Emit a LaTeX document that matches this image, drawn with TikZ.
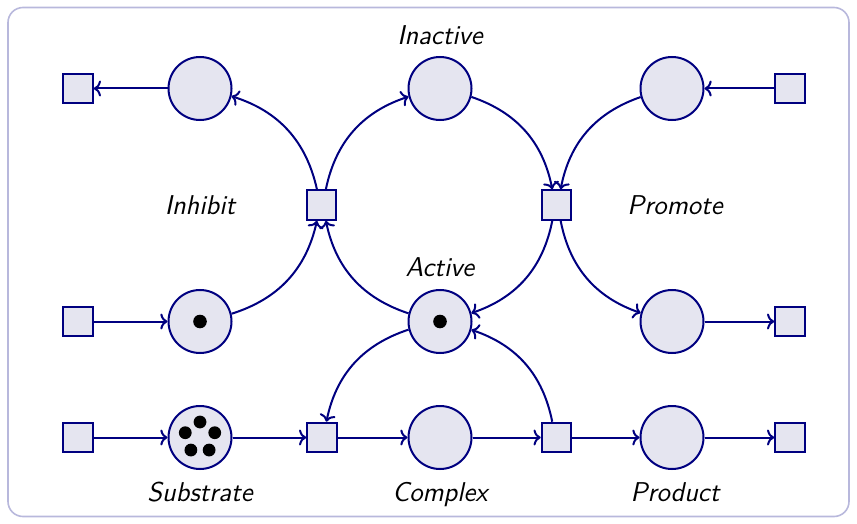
\documentclass[tikz,border=0pt]{standalone}
\usepackage{fontspec}
\usetikzlibrary{arrows.meta}
\definecolor{netline}{RGB}{0,0,128}
\definecolor{netfill}{RGB}{229,229,240}
\definecolor{framecol}{RGB}{184,184,220}
\begin{document}
\begin{tikzpicture}[x=0.5pt,y=-0.5pt,
  place/.style={circle,draw=netline,fill=netfill,line width=1pt,minimum size=31.5pt,inner sep=0pt},
  trans/.style={rectangle,draw=netline,fill=netfill,line width=1pt,minimum size=14.8pt,inner sep=0pt},
  lbl/.style={anchor=base,inner sep=0pt,font=\fontsize{13.6}{16}\selectfont\sffamily\itshape},
  arc/.style={draw=netline,line width=1pt,-{To[length=3.6pt,width=8pt]}},
  tok/.style={fill=black}]
\useasboundingbox (0,0) rectangle (857,524);
\draw[framecol,line width=0.8pt,rounded corners=7.5pt] (8,7.5) rectangle (849,516.5);

% top row
\node[trans] (sTL) at (78,88.5) {};
\node[place] (pTL) at (200,88.5) {};
\node[place] (pIn) at (440,88.5) {};
\node[place] (pTR) at (672,88.5) {};
\node[trans] (sTR) at (790,88.5) {};

% inhibit / promote transitions
\node[trans] (tI) at (321.5,205) {};
\node[trans] (tP) at (556.5,205) {};

% middle row
\node[trans] (sML) at (78,321.5) {};
\node[place] (pML) at (200,321.5) {};
\node[place] (pA)  at (440,321.5) {};
\node[place] (pMR) at (672,321.5) {};
\node[trans] (sMR) at (790,321.5) {};

% bottom row
\node[trans] (sBL) at (78,437.5) {};
\node[place] (pS)  at (200,437.5) {};
\node[trans] (tB1) at (322,437.5) {};
\node[place] (pC)  at (440,437.5) {};
\node[trans] (tB2) at (556.5,437.5) {};
\node[place] (pP)  at (672,437.5) {};
\node[trans] (sBR) at (790,437.5) {};

% tokens (y axis points down, so the pentagon angles are negated)
\fill[tok] (pML) circle (3.4pt);
\fill[tok] (pA) circle (3.4pt);
\foreach \a in {-90,-162,-234,-306,-18}
  \fill[tok] (pS) ++(\a:15.5) circle (3.2pt);

% labels
\node[lbl] (lIn)  at (440,45)    {Inactive};
\node[lbl] (lA)   at (440,276.5) {Active};
\node[lbl] (lI)   at (200,214)   {Inhibit};
\node[lbl] (lP)   at (675,214)   {Promote};
\node[lbl] (lS)   at (200,501)   {Substrate};
\node[lbl] (lC)   at (440,501)   {Complex};
\node[lbl] (lPr)  at (675,501)   {Product};

% straight arcs
\draw[arc] (pTL) -- (sTL);
\draw[arc] (sTR) -- (pTR);
\draw[arc] (sML) -- (pML);
\draw[arc] (pMR) -- (sMR);
\draw[arc] (sBL) -- (pS);
\draw[arc] (pS) -- (tB1);
\draw[arc] (tB1) -- (pC);
\draw[arc] (pC) -- (tB2);
\draw[arc] (tB2) -- (pP);
\draw[arc] (pP) -- (sBR);

% curved arcs
\draw[arc] (tI) to[bend right=30] (pTL);
\draw[arc] (tI) to[bend left=30] (pIn);
\draw[arc] (pML) to[bend right=30] (tI);
\draw[arc] (pA) to[bend left=30] (tI);
\draw[arc] (pIn) to[bend left=30] (tP);
\draw[arc] (pTR) to[bend right=30] (tP);
\draw[arc] (tP) to[bend left=30] (pA);
\draw[arc] (tP) to[bend right=30] (pMR);
\draw[arc] (pA) to[bend right=30] (tB1);
\draw[arc] (tB2) to[bend right=30] (pA);
\end{tikzpicture}
\end{document}
